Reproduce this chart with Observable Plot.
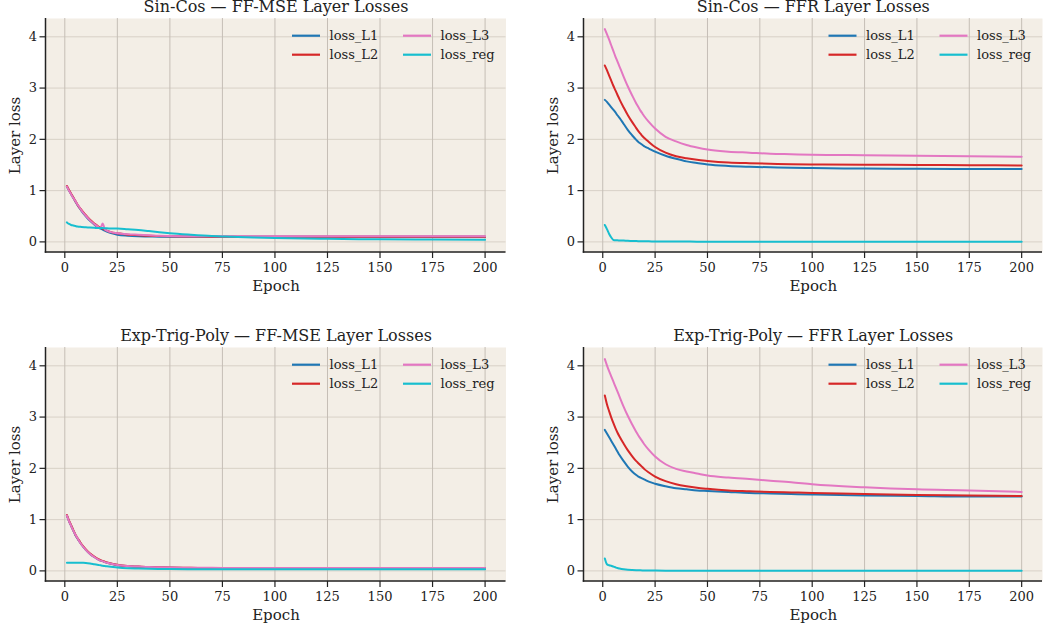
<!DOCTYPE html>
<html><head><meta charset="utf-8">
<script src="https://cdn.jsdelivr.net/npm/d3@7"></script>
<script src="https://cdn.jsdelivr.net/npm/@observablehq/plot@0.6"></script>
<style>
body{margin:0;background:#fff;}
#wrap{position:relative;width:1045px;height:634px;overflow:hidden;background:#fff;}
#wrap svg{position:absolute;overflow:visible;}
</style></head><body><div id="wrap"></div>
<script>
const epochs = [1,2,3,4,5,6,7,8,10,12,14,16,17,18,19,20,22,25,30,35,40,45,50,60,70,80,90,100,125,150,175,200];
const seriesNames = ["loss_L1","loss_L2","loss_L3","loss_reg"];
const seriesColors = ["#1f77b4","#d62728","#e377c2","#17becf"];
const panelTitles = ["Sin-Cos — FF-MSE Layer Losses","Sin-Cos — FFR Layer Losses","Exp-Trig-Poly — FF-MSE Layer Losses","Exp-Trig-Poly — FFR Layer Losses"];
const xLabel = "Epoch";
const yLabel = "Layer loss";
const xTicks = [0,25,50,75,100,125,150,175,200];
const yTicks = [0,1,2,3,4];

// Sin-Cos — FF-MSE
const scMse_L1 = [1.08,1.00,0.93,0.86,0.79,0.72,0.66,0.60,0.50,0.41,0.34,0.28,0.26,0.24,0.22,0.20,0.17,0.14,0.12,0.11,0.105,0.10,0.10,0.10,0.10,0.10,0.10,0.10,0.10,0.10,0.10,0.10];
const scMse_L2 = [1.09,1.01,0.94,0.87,0.80,0.73,0.67,0.62,0.52,0.43,0.36,0.30,0.28,0.26,0.24,0.22,0.19,0.17,0.14,0.13,0.12,0.115,0.11,0.105,0.10,0.10,0.10,0.10,0.10,0.10,0.10,0.10];
const scMse_L3 = [1.08,1.00,0.93,0.86,0.80,0.73,0.67,0.61,0.51,0.42,0.35,0.29,0.27,0.36,0.25,0.22,0.19,0.17,0.15,0.14,0.13,0.12,0.115,0.11,0.11,0.11,0.11,0.11,0.11,0.11,0.11,0.11];
const scMse_reg = [0.38,0.35,0.33,0.32,0.31,0.30,0.295,0.29,0.285,0.28,0.275,0.27,0.27,0.27,0.265,0.265,0.26,0.26,0.245,0.23,0.21,0.19,0.17,0.14,0.115,0.10,0.085,0.075,0.06,0.05,0.045,0.04];

// Sin-Cos — FFR
const scFfr_L1 = [2.77,2.73,2.68,2.63,2.58,2.53,2.47,2.42,2.30,2.18,2.08,1.99,1.95,1.92,1.89,1.86,1.82,1.76,1.68,1.62,1.57,1.54,1.51,1.48,1.465,1.455,1.445,1.44,1.43,1.425,1.42,1.42];
const scFfr_L2 = [3.44,3.35,3.25,3.15,3.05,2.96,2.87,2.78,2.62,2.47,2.34,2.22,2.16,2.11,2.06,2.02,1.95,1.85,1.74,1.67,1.63,1.60,1.58,1.55,1.535,1.525,1.515,1.51,1.505,1.50,1.495,1.49];
const scFfr_L3 = [4.15,4.05,3.95,3.84,3.73,3.62,3.52,3.42,3.22,3.03,2.86,2.70,2.63,2.56,2.50,2.44,2.34,2.21,2.05,1.96,1.89,1.84,1.80,1.76,1.74,1.72,1.71,1.70,1.69,1.68,1.67,1.66];
const scFfr_reg = [0.33,0.25,0.16,0.09,0.04,0.03,0.03,0.028,0.025,0.02,0.018,0.015,0.014,0.013,0.012,0.011,0.01,0.009,0.008,0.007,0.006,0.005,0.005,0.004,0.004,0.003,0.003,0.003,0.002,0.002,0.002,0.002];

// Exp-Trig-Poly — FF-MSE
const etpMse_L1 = [1.08,0.97,0.88,0.79,0.70,0.63,0.57,0.51,0.41,0.33,0.27,0.22,0.20,0.19,0.17,0.16,0.14,0.11,0.09,0.08,0.07,0.065,0.06,0.055,0.05,0.05,0.05,0.05,0.045,0.045,0.045,0.045];
const etpMse_L2 = [1.09,0.98,0.89,0.80,0.71,0.64,0.58,0.52,0.42,0.34,0.28,0.23,0.21,0.195,0.18,0.165,0.145,0.12,0.095,0.085,0.075,0.07,0.065,0.06,0.055,0.055,0.05,0.05,0.05,0.05,0.05,0.05];
const etpMse_L3 = [1.08,0.97,0.88,0.79,0.71,0.64,0.57,0.51,0.41,0.33,0.27,0.22,0.20,0.19,0.17,0.16,0.14,0.115,0.095,0.085,0.075,0.07,0.065,0.06,0.06,0.055,0.055,0.055,0.055,0.055,0.055,0.055];
const etpMse_reg = [0.16,0.16,0.16,0.16,0.16,0.16,0.16,0.158,0.155,0.145,0.13,0.115,0.108,0.10,0.095,0.09,0.08,0.065,0.05,0.045,0.04,0.038,0.036,0.034,0.033,0.032,0.031,0.03,0.03,0.03,0.03,0.03];

// Exp-Trig-Poly — FFR
const etpFfr_L1 = [2.75,2.68,2.61,2.54,2.47,2.40,2.33,2.26,2.14,2.03,1.94,1.87,1.84,1.82,1.80,1.78,1.74,1.70,1.65,1.61,1.59,1.57,1.56,1.54,1.52,1.51,1.50,1.49,1.47,1.46,1.45,1.45];
const etpFfr_L2 = [3.42,3.25,3.12,3.00,2.89,2.79,2.70,2.62,2.48,2.35,2.24,2.14,2.10,2.06,2.02,1.98,1.92,1.84,1.75,1.69,1.65,1.62,1.60,1.57,1.555,1.54,1.53,1.52,1.50,1.48,1.47,1.46];
const etpFfr_L3 = [4.13,4.01,3.90,3.80,3.70,3.60,3.50,3.40,3.20,3.02,2.86,2.71,2.64,2.58,2.52,2.46,2.36,2.23,2.08,1.99,1.94,1.90,1.86,1.82,1.79,1.76,1.73,1.69,1.63,1.59,1.57,1.54];
const etpFfr_reg = [0.24,0.13,0.11,0.10,0.085,0.07,0.055,0.045,0.03,0.02,0.015,0.012,0.011,0.01,0.009,0.008,0.007,0.006,0.005,0.005,0.004,0.004,0.004,0.003,0.003,0.003,0.002,0.002,0.002,0.001,0.001,0.001];

const panelSeries = [
  [scMse_L1, scMse_L2, scMse_L3, scMse_reg],
  [scFfr_L1, scFfr_L2, scFfr_L3, scFfr_reg],
  [etpMse_L1, etpMse_L2, etpMse_L3, etpMse_reg],
  [etpFfr_L1, etpFfr_L2, etpFfr_L3, etpFfr_reg]
];

const FONT = '"DejaVu Serif", serif';
const BG = "#f3eee6";
const INK = "#222222";

// layout boxes (svg position + margins)
const boxes = [
  {left:0,   top:0,   width:522, height:300, ml:45.5, mr:16.5, mt:18, mb:48},
  {left:522, top:0,   width:523, height:300, ml:61.5, mr:3,    mt:18, mb:48},
  {left:0,   top:300, width:522, height:334, ml:45.5, mr:16.5, mt:47, mb:53},
  {left:522, top:300, width:523, height:334, ml:61.5, mr:3,    mt:47, mb:53}
];

const wrap = document.getElementById("wrap");

panelSeries.forEach((series, p) => {
  const rows = [];
  series.forEach((vals, i) => vals.forEach((v, j) => rows.push({epoch: epochs[j], loss: v, series: seriesNames[i]})));
  const b = boxes[p];
  const svg = Plot.plot({
    width: b.width, height: b.height,
    marginLeft: b.ml, marginRight: b.mr, marginTop: b.mt, marginBottom: b.mb,
    style: {fontFamily: FONT, fontSize: "13px", background: "transparent", color: INK, overflow: "visible"},
    x: {domain: [-8.95, 209.95]},
    y: {domain: [-0.207, 4.357]},
    color: {domain: seriesNames, range: seriesColors},
    marks: [
      Plot.frame({fill: BG, stroke: null}),
      Plot.gridY(yTicks, {stroke: "#d8d1c7", strokeOpacity: 1, strokeWidth: 1}),
      Plot.gridX(xTicks, {stroke: "#c5beb6", strokeOpacity: 1, strokeWidth: 1}),
      Plot.line(rows, {x: "epoch", y: "loss", z: "series", stroke: "series", strokeWidth: 2, curve: "monotone-x"}),
      Plot.axisX(xTicks, {tickSize: 6, tickPadding: 4, fontSize: 13, label: null, tickFormat: d3.format("d"), stroke: INK, fill: INK, strokeWidth: 1.2}),
      Plot.axisY(yTicks, {tickSize: 6, tickPadding: 3, fontSize: 13, label: null, tickFormat: d3.format("d"), stroke: INK, fill: INK, strokeWidth: 1.2}),
      Plot.text([xLabel], {text: d => d, frameAnchor: "bottom", lineAnchor: "middle", textAnchor: "middle", dy: 34, fontSize: 15, fill: INK}),
      Plot.text([yLabel], {text: d => d, frameAnchor: "left", lineAnchor: "middle", textAnchor: "middle", dx: -31, rotate: -90, fontSize: 15, fill: INK}),
      Plot.text([panelTitles[p]], {text: d => d, frameAnchor: "top", textAnchor: "middle", dy: -7, lineAnchor: "bottom", fontSize: 16, fill: INK})
    ]
  });
  svg.style.left = b.left + "px";
  svg.style.top = b.top + "px";
  const xr = svg.scale("x").range, yr = svg.scale("y").range;
  const L = Math.min(...xr), R = Math.max(...xr), T = Math.min(...yr), B = Math.max(...yr);
  const g = d3.select(svg).append("g");
  // spines (left, bottom)
  g.append("line").attr("x1", L).attr("x2", L).attr("y1", T).attr("y2", B + 0.75).attr("stroke", INK).attr("stroke-width", 1.5);
  g.append("line").attr("x1", L - 0.75).attr("x2", R).attr("y1", B).attr("y2", B).attr("stroke", INK).attr("stroke-width", 1.5);
  // legend (2 columns, column-major)
  const lg = g.append("g").attr("font-family", FONT).attr("font-size", 13).attr("fill", INK).attr("text-anchor", "start");
  seriesNames.forEach((name, i) => {
    const col = Math.floor(i / 2), row = i % 2;
    const x0 = R - 213.5 + col * 111;
    const yy = T + 17.7 + row * 19;
    lg.append("line").attr("x1", x0).attr("x2", x0 + 28).attr("y1", yy).attr("y2", yy)
      .attr("stroke", seriesColors[i]).attr("stroke-width", 2.2);
    lg.append("text").attr("x", x0 + 37.5).attr("y", yy).attr("dy", "0.35em").attr("text-anchor", "start").text(name);
  });
  wrap.appendChild(svg);
});
</script>
</body></html>
